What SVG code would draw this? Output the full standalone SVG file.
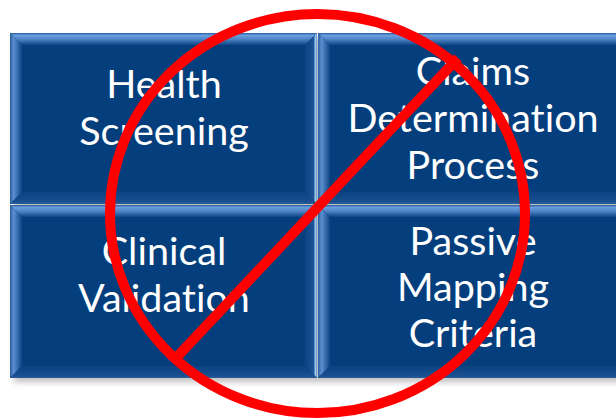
<svg xmlns="http://www.w3.org/2000/svg" width="616" height="420" viewBox="0 0 616 420">
<style>
.face{fill:#043e7c}
.l{fill:url(#gl)}
.tp{fill:url(#gt)}
.r{fill:url(#gr)}
.b{fill:url(#gb)}
.lbl{font-family:Lato,"Open Sans","Liberation Sans",sans-serif;font-size:39.5px;fill:#ffffff;text-anchor:middle;font-variant-ligatures:none}
.no{fill:none;stroke:#ff0000;stroke-width:10}
</style>
<defs>
<linearGradient id="gt" x1="0" y1="0" x2="0" y2="1">
<stop offset="0" stop-color="#2c5d9c"/><stop offset="0.2" stop-color="#6a9ede"/><stop offset="0.55" stop-color="#4a80c4"/><stop offset="1" stop-color="#0d4586"/>
</linearGradient>
<linearGradient id="gl" x1="0" y1="0" x2="1" y2="0">
<stop offset="0" stop-color="#2a5c9c"/><stop offset="0.3" stop-color="#5b90d0"/><stop offset="1" stop-color="#0b4484"/>
</linearGradient>
<linearGradient id="gr" x1="0" y1="0" x2="1" y2="0">
<stop offset="0" stop-color="#0a4282"/><stop offset="0.7" stop-color="#1c5296"/><stop offset="0.88" stop-color="#9ccbee"/><stop offset="1" stop-color="#5a8cc8"/>
</linearGradient>
<linearGradient id="gb" x1="0" y1="0" x2="0" y2="1">
<stop offset="0" stop-color="#0a4282"/><stop offset="0.8" stop-color="#1a4f90"/><stop offset="1" stop-color="#2b5d9a"/>
</linearGradient>
<filter id="sh" x="-10%" y="-10%" width="120%" height="120%"><feGaussianBlur stdDeviation="3"/></filter>
</defs>
<rect x="14" y="38" width="620" height="344" fill="#8a8a8a" opacity="0.55" filter="url(#sh)"/>
<g id="health-screening">
<rect class="face" x="10" y="33" width="307" height="171"/>
<polygon class="tp" points="10,33 317,33 305,45 22,45"/>
<polygon class="l" points="10,33 22,45 22,192 10,204"/>
<polygon class="r" points="317,33 317,204 305,192 305,45"/>
<polygon class="b" points="10,204 317,204 305,192 22,192"/>
<text class="lbl" x="164" y="98">Health</text>
<text class="lbl" x="164" y="145">Screening</text>
</g>
<g id="claims-determination">
<rect class="face" x="318" y="33" width="310" height="171"/>
<polygon class="tp" points="318,33 628,33 616,45 330,45"/>
<polygon class="l" points="318,33 330,45 330,192 318,204"/>
<polygon class="r" points="628,33 628,204 616,192 616,45"/>
<polygon class="b" points="318,204 628,204 616,192 330,192"/>
<text class="lbl" x="473" y="85">Claims</text>
<text class="lbl" x="473" y="132">Determination</text>
<text class="lbl" x="473" y="179">Process</text>
</g>
<g id="clinical-validation">
<rect class="face" x="10" y="205" width="307" height="173"/>
<polygon class="tp" points="10,205 317,205 305,217 22,217"/>
<polygon class="l" points="10,205 22,217 22,366 10,378"/>
<polygon class="r" points="317,205 317,378 305,366 305,217"/>
<polygon class="b" points="10,378 317,378 305,366 22,366"/>
<text class="lbl" x="164" y="265">Clinical</text>
<text class="lbl" x="164" y="312">Validation</text>
</g>
<g id="passive-mapping">
<rect class="face" x="318" y="205" width="310" height="173"/>
<polygon class="tp" points="318,205 628,205 616,217 330,217"/>
<polygon class="l" points="318,205 330,217 330,366 318,378"/>
<polygon class="r" points="628,205 628,378 616,366 616,217"/>
<polygon class="b" points="318,378 628,378 616,366 330,366"/>
<text class="lbl" x="473" y="255">Passive</text>
<text class="lbl" x="473" y="301">Mapping</text>
<text class="lbl" x="473" y="347">Criteria</text>
</g>
<g id="connectors">
<ellipse class="no" cx="317.5" cy="213.5" rx="207.5" ry="199.5"/>
<line class="no" x1="176" y1="358" x2="458" y2="58"/>
</g>
</svg>
